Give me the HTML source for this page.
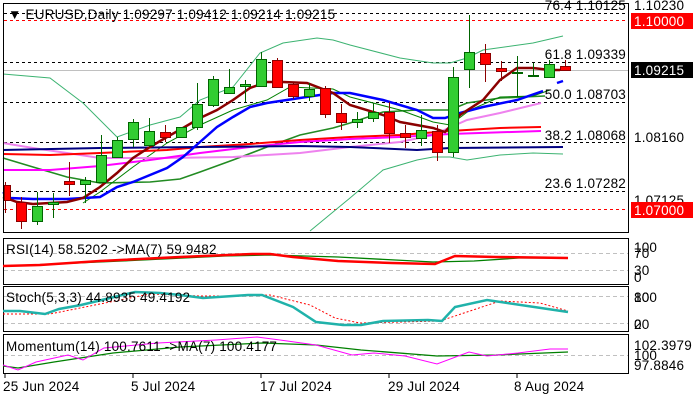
<!DOCTYPE html>
<html><head><meta charset="utf-8"><style>
html,body{margin:0;padding:0;background:#fff;}
svg{display:block;font-family:"Liberation Sans",sans-serif;font-size:13.5px;letter-spacing:0.2px;}
</style></head><body>
<svg id="s" width="700" height="400" viewBox="0 0 700 400" xmlns="http://www.w3.org/2000/svg">
<rect width="700" height="400" fill="#fff"/>
<g id="main"></g>
<g fill="none" stroke="#000" stroke-width="1">
<rect x="3.5" y="3.5" width="625" height="229"/>
<rect x="3.5" y="238.5" width="625" height="46"/>
<rect x="3.5" y="286.5" width="625" height="45"/>
<rect x="3.5" y="334.5" width="625" height="39"/>
</g>
<text x="8" y="19" fill="#000">▼ EURUSD,Daily  1.09297 1.09412 1.09214 1.09215</text>
<g text-anchor="end" fill="#000">
<text x="626" y="10">76.4 1.10125</text>
<text x="626" y="59">61.8 1.09339</text>
<text x="626" y="99">50.0 1.08703</text>
<text x="626" y="140">38.2 1.08068</text>
<text x="626" y="188">23.6 1.07282</text>
</g>
<g fill="#000">
<text x="634" y="10">1.10230</text>
<text x="634" y="142">1.08160</text>
<text x="634" y="205">1.07125</text>
<rect x="631" y="13" width="62" height="16" fill="#ff0000"/>
<text x="634" y="26" fill="#fff">1.10000</text>
<rect x="631" y="62" width="62" height="16" fill="#000"/>
<text x="634" y="75" fill="#fff">1.09215</text>
<rect x="631" y="202" width="62" height="16" fill="#ff0000"/>
<text x="634" y="215" fill="#fff">1.07000</text>
<text x="634" y="252">100</text><text x="634" y="258">70</text>
<text x="634" y="275">30</text><text x="634" y="282">0</text>
<text x="634" y="302">100</text><text x="634" y="302">80</text>
<text x="634" y="329">20</text><text x="634" y="329">0</text>
<text x="634" y="350">102.3979</text>
<text x="634" y="360">100</text>
<text x="634" y="370">97.8846</text>
</g>
<g stroke="#c0c0c0" stroke-dasharray="4,3">
<line x1="4" y1="253.5" x2="628" y2="253.5"/>
<line x1="4" y1="270.5" x2="628" y2="270.5"/>
<line x1="4" y1="296.5" x2="628" y2="296.5"/>
<line x1="4" y1="323.5" x2="628" y2="323.5"/>
<line x1="4" y1="355.5" x2="628" y2="355.5"/>
</g>
<polyline fill="none" stroke="#008000" stroke-width="1.3" points="3,266 54,264 122,261 225,256 270,255 338,257 433,262 474,261 519,258 568,258"/>
<polyline fill="none" stroke="#ff0000" stroke-width="2.5" points="3,266 40,265 100,261 180,257 252,254 270,254 293,257 338,261 392,263 435,264 455,256 496,257 568,258"/>
<text x="6" y="254" fill="#000">RSI(14) 58.5202  -&gt;MA(7) 59.9482</text>
<polyline fill="none" stroke="#ff0000" stroke-width="1" stroke-dasharray="2,2" points="3,314 50,314 80,308 120,300 150,294 200,296 240,296 270,295 310,305 335,318 360,323 400,322 440,321 470,311 500,301 540,303 568,311"/>
<polyline fill="none" stroke="#20b2aa" stroke-width="2.5" points="3,311 20,311 45,314 59,309 81,305 135,292 160,293 180,295 203,298 248,295 262,295 293,307 316,322 343,325 361,325 383,321 428,320 442,321 455,307 487,300 541,308 568,312"/>
<text x="6" y="302" fill="#000">Stoch(5,3,3) 44.8935 49.4192</text>
<polyline fill="none" stroke="#008000" stroke-width="1.3" points="3,366 18,368 54,362 113,353 180,347 262,343 316,345 361,350 437,356 496,355 568,352"/>
<polyline fill="none" stroke="#ff00ff" stroke-width="1" points="3,365 18,370 36,362 68,355 83,360 104,348 158,343 216,340 257,337 280,340 316,345 352,355 374,353 405,356 437,364 469,352 487,356 518,353 550,349 568,349"/>
<text x="6" y="351" fill="#000">Momentum(14) 100.7611  -&gt;MA(7) 100.4177</text>
<g stroke="#000"><line x1="5" y1="374" x2="5" y2="378"/><line x1="133" y1="374" x2="133" y2="378"/><line x1="261" y1="374" x2="261" y2="378"/><line x1="389" y1="374" x2="389" y2="378"/><line x1="517" y1="374" x2="517" y2="378"/></g>
<g fill="#000">
<text x="3" y="391">25 Jun 2024</text>
<text x="131" y="391">5 Jul 2024</text>
<text x="260" y="391">17 Jul 2024</text>
<text x="388" y="391">29 Jul 2024</text>
<text x="514" y="391">8 Aug 2024</text>
</g>
</svg>
<script>
var NS="http://www.w3.org/2000/svg",g=document.getElementById("main");
function el(t,a){var e=document.createElementNS(NS,t);for(var k in a)e.setAttribute(k,a[k]);g.appendChild(e);return e;}
function pl(p,c,w,d){var a={points:p,fill:"none",stroke:c,"stroke-width":w};if(d)a["stroke-dasharray"]=d;el("polyline",a);}
el("line",{x1:4,y1:70.5,x2:628,y2:70.5,stroke:"#c0c0c0"});
[13,62,102,142,191].forEach(function(y){el("line",{x1:4,y1:y+.5,x2:628,y2:y+.5,stroke:"#000","stroke-dasharray":"3,3"});});
[20,209].forEach(function(y){el("line",{x1:4,y1:y+.5,x2:628,y2:y+.5,stroke:"#ff0000","stroke-dasharray":"3,3"});});
pl("3,74 50,78 83,103 117,137 150,125 180,117 200,100 233,87 260,53 283,43 317,38 333,40 350,45 400,58 433,63 450,63 467,58 483,50 533,43 563,36","#3cb371",1);
pl("310,231 350,198 383,170 417,160 433,157 450,157 467,160 500,155 533,153 563,154","#3cb371",1);
pl("3,158 33,167 67,177 100,183 150,182 180,179 200,172 233,160 267,147 300,135 333,128 350,123 383,112 417,110 450,110 467,103 500,98 545,96","#228b22",1.6);
pl("83,203 100,192 133,167 167,143 200,125 233,110 267,100 290,87 333,89 350,97 400,110 433,122 450,125 470,110 500,97 533,96 550,90","#008000",1);
pl("3,143 33,148 67,153 100,158 167,158 233,157 300,153 350,147 400,142 433,135 467,120 500,113 541,103","#ee82ee",2);
pl("3,154 50,155 100,153 167,150 200,147 250,144 300,140 350,137 400,135 450,131 500,128 541,127","#ff0000",2);
pl("3,170 50,170 100,166 150,160 200,153 250,147 300,142 350,139 400,137 450,134 541,131","#ff00ff",2);
pl("3,150 100,148 200,147 300,146 350,147 417,150 450,148 563,147","#000080",2);
pl("3,192 10,198 33,199 67,199 100,197 117,187 133,182 167,168 183,157 200,142 217,127 233,117 250,107 267,103 300,98 333,93 350,93 383,100 417,110 433,118 445,118 460,113 483,107 517,100 543,91","#0000ff",2.5);
pl("557,83 563,81","#0000ff",2.5);
pl("3,197 17,202 33,204 67,202 83,198 100,187 117,173 133,158 150,147 167,137 183,128 200,118 217,110 233,100 250,88 267,82 283,82 307,83 333,93 350,105 383,115 400,122 433,128 445,132 460,115 483,100 500,80 517,68 533,68 550,70 560,70","#8b0000",2.5);
var C=[[185,200,182,213],[202,221,197,229],[221,206,192,225],[204,202,193,218],[181,184,162,196],[184,180,177,203],[182,155,135,182],[157,140,137,157],[139,122,119,147],[145,131,118,147],[132,137,125,142],[137,127,127,138],[127,104,83,130],[105,79,76,107],[93,87,69,94],[86,84,80,102],[86,59,52,86],[60,87,58,87],[84,96,83,99],[96,89,83,101],[88,114,86,118],[113,122,104,130],[122,119,112,128],[118,112,103,122],[112,133,102,143],[133,137,125,148],[138,130,115,146],[131,152,125,161],[152,77,67,157],[69,52,15,88],[53,64,44,82],[68,71,61,81],[72,72,56,97],[76,75,63,77],[77,64,60,78],[66,70,60,70]];
C.forEach(function(c,k){var x=5+16*k,o=c[0],cl=c[1],up=cl<=o;
 var col=up?"#32cd32":"#ff0000",bd=up?"#006400":"#8b0000";
 el("line",{x1:x+.5,y1:c[2],x2:x+.5,y2:c[3],stroke:bd,"stroke-width":1});
 var t=Math.min(o,cl),h=Math.max(Math.abs(o-cl),1);
 var x0=Math.max(x-5,4);
 el("rect",{x:x0+.5,y:t+.5,width:x+5-x0,height:h,fill:col,stroke:bd,"stroke-width":1});
});
</script>
</body></html>
